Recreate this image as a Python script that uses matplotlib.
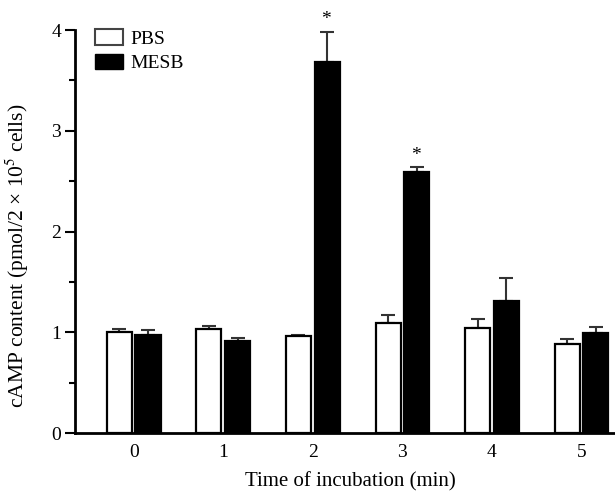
import numpy as np
import matplotlib
matplotlib.use("Agg")
import matplotlib.pyplot as plt
from matplotlib.patches import Patch

plt.rcParams['font.family'] = ['Liberation Serif', 'DejaVu Serif']
plt.rcParams['mathtext.fontset'] = 'stix'

times = ['0', '1', '2', '3', '4', '5']
pbs = [1.00, 1.03, 0.96, 1.09, 1.045, 0.88]
pbs_err = [0.03, 0.03, 0.01, 0.08, 0.085, 0.05]
mesb = [0.97, 0.91, 3.685, 2.59, 1.31, 0.99]
mesb_err = [0.05, 0.03, 0.30, 0.05, 0.225, 0.06]
signif = [False, False, True, True, False, False]

fig = plt.figure(figsize=(6.15, 4.96), dpi=100)
ax = fig.add_axes([0.122, 0.127, 0.876, 0.8125])

x = np.arange(len(times))
w = 0.28
off = 0.16
ax.bar(x - off, pbs, w, color='white', edgecolor='black', linewidth=1.6, zorder=3)
ax.bar(x + off, mesb, w, color='black', edgecolor='black', linewidth=1.6, zorder=3)
ax.errorbar(x - off, pbs, yerr=[np.zeros(6), pbs_err], fmt='none', ecolor='#333333',
            elinewidth=1.5, capsize=5, capthick=1.5, zorder=2)
ax.errorbar(x + off, mesb, yerr=[np.zeros(6), mesb_err], fmt='none', ecolor='#333333',
            elinewidth=1.5, capsize=5, capthick=1.5, zorder=2)

for i in range(len(times)):
    if signif[i]:
        ax.text(x[i] + off - 0.01, mesb[i] + mesb_err[i] + 0.03, '*', ha='center', va='bottom', fontsize=14)

ax.set_xlim(-0.655, 5.36)
ax.set_ylim(0, 4)
ax.set_xticks(x)
ax.set_xticklabels(times)
ax.set_yticks([0, 1, 2, 3, 4])
ax.set_yticks([0.5, 1.5, 2.5, 3.5], minor=True)
ax.tick_params(axis='x', length=0, pad=8, labelsize=14)
ax.tick_params(axis='y', which='major', length=7, width=1.5, direction='out', labelsize=14, pad=3)
ax.tick_params(axis='y', which='minor', length=4, width=1.5, direction='out')
ax.spines['top'].set_visible(False)
ax.spines['right'].set_visible(False)
ax.spines['left'].set_linewidth(2)
ax.spines['bottom'].set_linewidth(2)

ax.set_ylabel('cAMP content (pmol/2 × 10$^5$ cells)', fontsize=15.5, va='center')
ax.yaxis.set_label_coords(-0.108, 0.44)
ax.set_xlabel('Time of incubation (min)', fontsize=15, va='center')
ax.xaxis.set_label_coords(0.512, -0.12)

handles = [Patch(facecolor='white', edgecolor='#444444', linewidth=1.5, label='PBS'),
           Patch(facecolor='black', edgecolor='black', label='MESB')]
ax.legend(handles=handles, loc='upper left', bbox_to_anchor=(0.005, 1.045), frameon=False,
          fontsize=14, handlelength=1.45, handleheight=0.85, handletextpad=0.35, labelspacing=0.3)

fig.savefig('out.png', dpi=100)
